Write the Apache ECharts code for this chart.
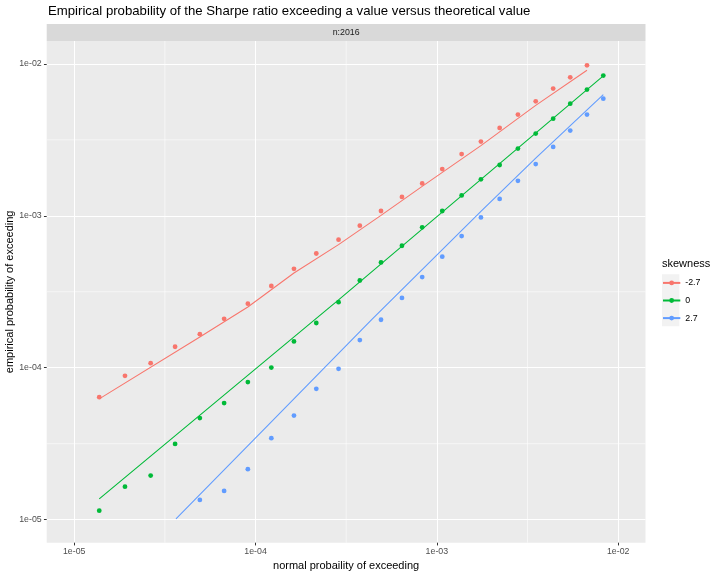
<!DOCTYPE html>
<html>
<head>
<meta charset="utf-8">
<script src="https://cdn.jsdelivr.net/npm/echarts@6/dist/echarts.min.js"></script>
<style>
html,body{margin:0;padding:0;background:#fff;}
#chart{width:720px;height:576px;}
</style>
</head>
<body>
<div id="chart"></div>
<script>
// ---- data ----
const skewLevels = ['-2.7', '0', '2.7'];
const normalProb = [1.374e-5, 1.905e-5, 2.64e-5, 3.60e-5, 4.93e-5, 6.71e-5, 9.07e-5, 1.222e-4,
  1.629e-4, 2.163e-4, 2.87e-4, 3.76e-4, 4.92e-4, 6.42e-4, 8.30e-4, 1.071e-3, 1.370e-3,
  1.75e-3, 2.22e-3, 2.80e-3, 3.51e-3, 4.38e-3, 5.44e-3, 6.73e-3, 8.28e-3];
const empNeg = [6.40e-5, 8.85e-5, 1.071e-4, 1.374e-4, 1.664e-4, 2.10e-4, 2.64e-4, 3.45e-4,
  4.48e-4, 5.65e-4, 6.97e-4, 8.61e-4, 1.076e-3, 1.331e-3, 1.633e-3, 2.03e-3, 2.55e-3,
  3.08e-3, 3.79e-3, 4.64e-3, 5.67e-3, 6.88e-3, 8.16e-3, 9.79e-3, null];
const empZero = [1.146e-5, 1.648e-5, 1.95e-5, 3.15e-5, 4.66e-5, 5.85e-5, 8.04e-5, 1.002e-4,
  1.49e-4, 1.97e-4, 2.70e-4, 3.75e-4, 4.93e-4, 6.35e-4, 8.40e-4, 1.076e-3, 1.362e-3,
  1.738e-3, 2.16e-3, 2.77e-3, 3.48e-3, 4.36e-3, 5.47e-3, 6.78e-3, 8.38e-3];
const empPos = [null, null, null, null, 1.349e-5, 1.545e-5, 2.15e-5, 3.44e-5, 4.84e-5, 7.26e-5,
  9.84e-5, 1.52e-4, 2.07e-4, 2.88e-4, 3.95e-4, 5.38e-4, 7.36e-4, 9.76e-4, 1.291e-3,
  1.70e-3, 2.19e-3, 2.84e-3, 3.64e-3, 4.64e-3, 5.90e-3];
// theoretical curves (read at several x positions)
const theoNegX = [1.374e-5, 4.93e-5, 9.07e-5, 1.629e-4, 2.87e-4, 4.92e-4, 8.30e-4, 1.75e-3, 3.51e-3, 6.73e-3];
const theoNegY = [6.24e-5, 1.592e-4, 2.51e-4, 4.20e-4, 6.46e-4, 1.007e-3, 1.563e-3, 2.90e-3, 5.33e-3, 9.08e-3];
const theoZeroX = [1.374e-5, 2.87e-4, 8.28e-3];
const theoZeroY = [1.37e-5, 2.80e-4, 8.35e-3];
const theoPosX = [3.64e-5, 1.222e-4, 4.37e-4, 1.75e-3, 3.51e-3, 8.28e-3];
const theoPosY = [1.01e-5, 4.40e-5, 2.07e-4, 1.07e-3, 2.40e-3, 6.28e-3];
const majorBreaks = [1e-5, 1e-4, 1e-3, 1e-2];
const minorBreaks = [3.1623e-5, 3.1623e-4, 3.1623e-3];
const colors = ['#F8766D', '#00BA38', '#619CFF'];

const zip = (xs, ys) => xs.map((x, i) => [x, ys[i]]).filter(p => p[1] != null);
const empirical = [empNeg, empZero, empPos];
const theoretical = [[theoNegX, theoNegY], [theoZeroX, theoZeroY], [theoPosX, theoPosY]];

const FONT = '"Liberation Sans", Arial, Helvetica, sans-serif';
const fmt = v => {
  const s = Number(v).toExponential(0);
  return s.replace(/e([+-])(\d)$/, 'e$10$2');
};

const PL = 46.7, PR = 645.5, PT = 41, PB = 542.7;
const axisMin = 7.05e-6, axisMax = 1.415e-2;

const series = [];
skewLevels.forEach((name, i) => {
  series.push({
    type: 'line', name: name,
    data: zip(theoretical[i][0], theoretical[i][1]),
    showSymbol: false, symbol: 'circle',
    lineStyle: { color: colors[i], width: 1.07 },
    itemStyle: { color: colors[i] },
    z: 3, animation: false, silent: true
  });
});
skewLevels.forEach((name, i) => {
  series.push({
    type: 'scatter', name: name,
    data: zip(normalProb, empirical[i]),
    symbol: 'circle', symbolSize: 4.8,
    itemStyle: { color: colors[i], opacity: 1 },
    z: 4, animation: false, silent: true
  });
});
// minor grid lines (at minor breaks, drawn through the axis scales)
series.push({
  type: 'custom', name: 'minor-grid', z: 1, silent: true, animation: false, clip: false,
  data: minorBreaks.map(v => [v, v]),
  encode: { x: 0, y: 1 },
  renderItem: function (params, api) {
    const v = api.value(0);
    const a = api.coord([v, axisMin]), b = api.coord([v, axisMax]);
    const c = api.coord([axisMin, v]), d = api.coord([axisMax, v]);
    const st = { stroke: '#ffffff', lineWidth: 0.55 };
    return {
      type: 'group', children: [
        { type: 'line', shape: { x1: a[0], y1: a[1], x2: b[0], y2: b[1] }, style: st },
        { type: 'line', shape: { x1: c[0], y1: c[1], x2: d[0], y2: d[1] }, style: st }
      ]
    };
  }
});

function makeAxis(isX) {
  return {
    type: 'log', logBase: 10, min: axisMin, max: axisMax,
    name: isX ? 'normal probaility of exceeding' : 'empirical probability of exceeding',
    nameLocation: 'middle',
    nameGap: isX ? 17.5 : 31,
    nameMoveOverlap: false,
    nameTextStyle: { fontFamily: FONT, fontSize: 11, color: '#000000' },
    axisLine: { show: false },
    axisTick: { show: true, length: 2.75, lineStyle: { color: '#333333', width: 1 }, customValues: majorBreaks },
    axisLabel: {
      show: true, fontFamily: FONT, fontSize: 8.8, color: '#4d4d4d',
      margin: isX ? 4 : 5, formatter: fmt, customValues: majorBreaks
    },
    splitLine: { show: true, lineStyle: { color: '#ffffff', width: 1.07 } },
    minorTick: { show: false },
    minorSplitLine: { show: false }
  };
}

const chart = echarts.init(document.getElementById('chart'), null, { renderer: 'canvas' });
chart.setOption({
  animation: false,
  backgroundColor: '#ffffff',
  title: {
    text: 'Empirical probability of the Sharpe ratio exceeding a value versus theoretical value',
    left: 48, top: 5, padding: 0,
    textStyle: { fontFamily: FONT, fontSize: 13.2, fontWeight: 'normal', color: '#000000' }
  },
  grid: {
    left: PL, right: 720 - PR, top: PT, bottom: 576 - PB,
    show: true, backgroundColor: '#ebebeb', borderWidth: 0,
    containLabel: false, outerBoundsMode: 'none'
  },
  xAxis: makeAxis(true),
  yAxis: makeAxis(false),
  legend: {
    data: skewLevels, orient: 'vertical', left: 662, top: 278.4, padding: 0,
    itemWidth: 17.3, itemHeight: 6, itemGap: 8.6, selectedMode: false,
    textStyle: { fontFamily: FONT, fontSize: 8.8, lineHeight: 6, color: '#000000' }
  },
  graphic: [
    { type: 'rect', shape: { x: PL, y: 24, width: PR - PL, height: 17 }, style: { fill: '#d9d9d9' }, silent: true },
    { type: 'text', x: (PL + PR) / 2, y: 32.5, style: { text: 'n:2016', fontFamily: FONT, fontSize: 8.8, fill: '#1a1a1a', align: 'center', verticalAlign: 'middle' }, silent: true },
    { type: 'text', x: 662, y: 264, style: { text: 'skewness', fontFamily: FONT, fontSize: 11, fill: '#000000', align: 'left', verticalAlign: 'middle' }, silent: true },
    { type: 'rect', z: -1, shape: { x: 662, y: 274.2, width: 17.3, height: 52 }, style: { fill: '#f2f2f2' }, silent: true }
  ],
  series: series
});
</script>
</body>
</html>
